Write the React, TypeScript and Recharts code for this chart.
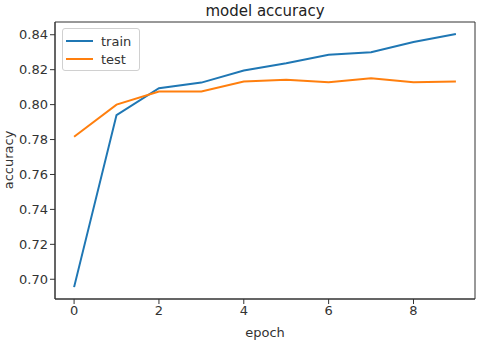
import React from "react"
import { LineChart, Line, XAxis, YAxis, ReferenceArea } from "recharts"

const epochs = [0, 1, 2, 3, 4, 5, 6, 7, 8, 9]
const trainAcc = [0.6955, 0.794, 0.8094, 0.8126, 0.8195, 0.8237, 0.8286, 0.830, 0.8358, 0.8404]
const testAcc = [0.7816, 0.800, 0.8075, 0.8075, 0.8132, 0.8142, 0.8128, 0.8151, 0.8128, 0.8132]
const xTicks = [0, 2, 4, 6, 8]
const yTicks = [0.70, 0.72, 0.74, 0.76, 0.78, 0.80, 0.82, 0.84]

const X_DOMAIN: [number, number] = [-0.45, 9.45]
const Y_DOMAIN: [number, number] = [0.6887, 0.8473]

const data = epochs.map((e, i) => ({ epoch: e, train: trainAcc[i], test: testAcc[i] }))

const font = "'DejaVu Sans', sans-serif"
const tickStyle = { fontSize: 13, fill: "#333", fontFamily: font }

const legendItems = [
    { name: "train", color: "#1f77b4" },
    { name: "test", color: "#ff7f0e" },
]

function LegendBox() {
    return (
        <div style={{ position: "absolute", left: 62, top: 28, border: "1px solid #d0d0d0", borderRadius: 3, padding: "3px 8px 2px 3px", background: "#fff", fontFamily: font, fontSize: 13, color: "#333" }}>
            {legendItems.map((it) => (
                <div key={it.name} style={{ display: "flex", alignItems: "center", height: 18 }}>
                    <span style={{ display: "inline-block", width: 27, height: 2, background: it.color, marginRight: 8 }} />
                    <span>{it.name}</span>
                </div>
            ))}
        </div>
    )
}

export default function App() {
    return (
        <div style={{ position: "absolute", left: 0, top: 0, width: 480, height: 342, background: "#fff" }}>
            <LineChart width={480} height={342} data={data} margin={{ top: 22, right: 5, bottom: 0, left: 0 }}>
                <XAxis
                    dataKey="epoch"
                    type="number"
                    domain={X_DOMAIN}
                    ticks={xTicks}
                    allowDataOverflow
                    height={43}
                    tickSize={5}
                    stroke="#333"
                    tick={tickStyle}
                />
                <YAxis
                    type="number"
                    domain={Y_DOMAIN}
                    ticks={yTicks}
                    allowDataOverflow
                    width={55}
                    tickSize={5}
                    stroke="#333"
                    tick={tickStyle}
                    tickFormatter={(v: number) => v.toFixed(2)}
                />
                <ReferenceArea x1={X_DOMAIN[0]} x2={X_DOMAIN[1]} y1={Y_DOMAIN[0]} y2={Y_DOMAIN[1]} fill="none" stroke="#333" strokeWidth={1} strokeOpacity={1} fillOpacity={0} />
                <Line type="linear" dataKey="train" stroke="#1f77b4" strokeWidth={2} dot={false} isAnimationActive={false} />
                <Line type="linear" dataKey="test" stroke="#ff7f0e" strokeWidth={2} dot={false} isAnimationActive={false} />
                <text x={265} y={16} textAnchor="middle" style={{ fontSize: 15, fill: "#222", fontFamily: font }}>model accuracy</text>
                <text x={265} y={337} textAnchor="middle" style={{ fontSize: 13, fill: "#333", fontFamily: font }}>epoch</text>
                <text x={13} y={160} textAnchor="middle" transform="rotate(-90 13 160)" style={{ fontSize: 13, fill: "#333", fontFamily: font }}>accuracy</text>
            </LineChart>
            <LegendBox />
        </div>
    )
}
